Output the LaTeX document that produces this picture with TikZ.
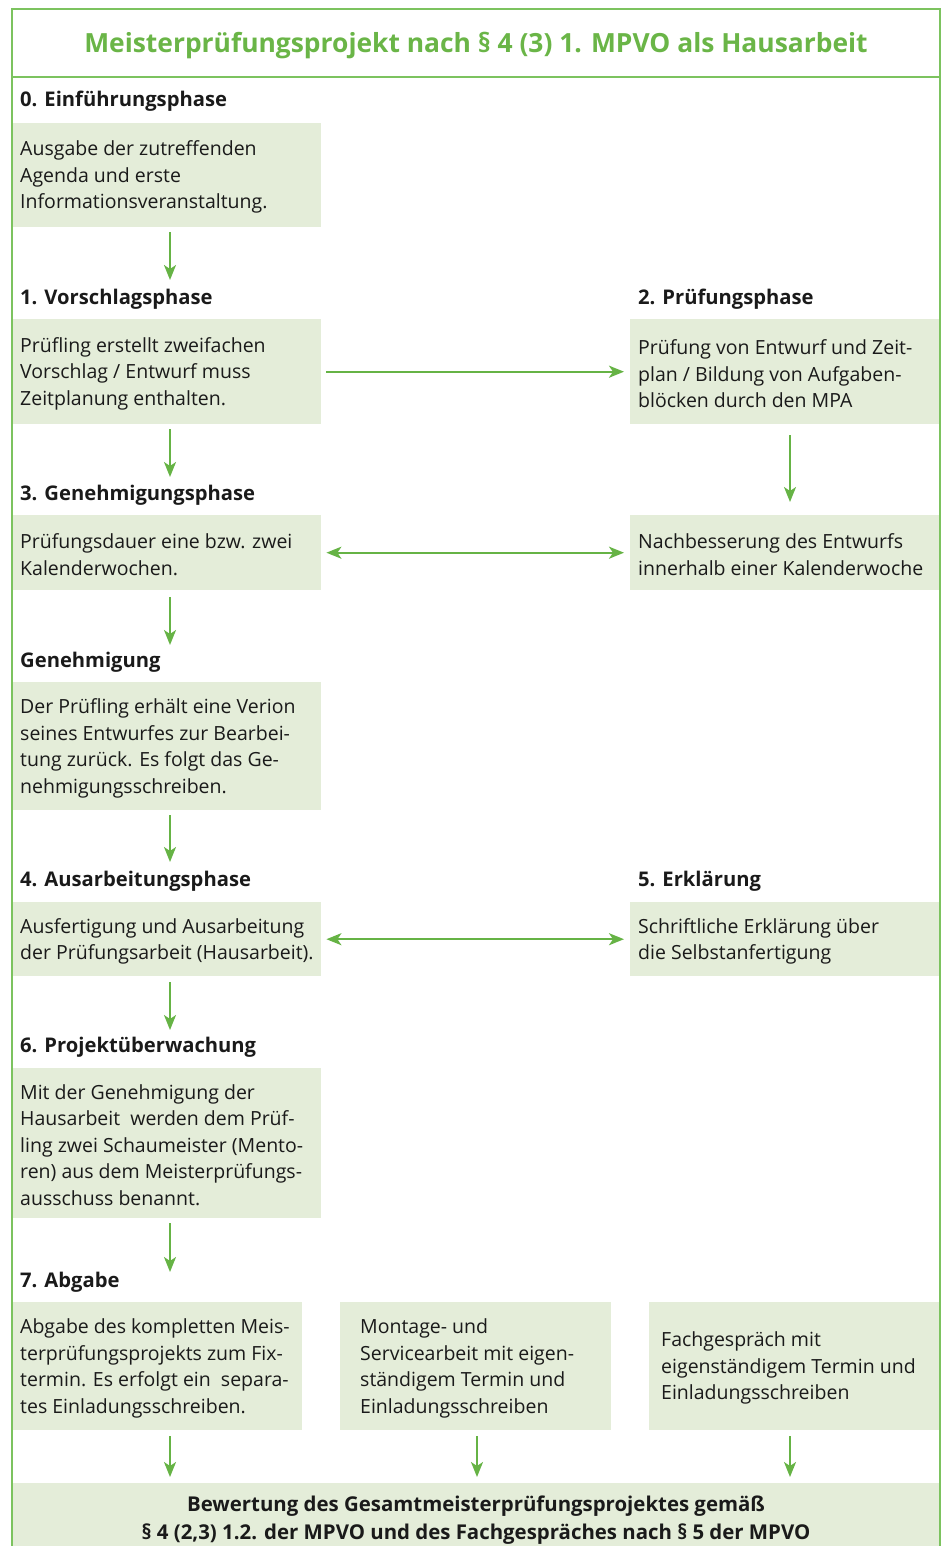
\documentclass[tikz,border=0pt]{standalone}
\usepackage{fontspec}
\setmainfont{Open Sans}
\usetikzlibrary{arrows.meta,calc}
\definecolor{boxfill}{HTML}{E4EDD9}
\definecolor{arrgreen}{HTML}{66B345}
\definecolor{bordergreen}{HTML}{7CC35F}
\definecolor{titlegreen}{HTML}{6AB547}
\definecolor{txtcol}{HTML}{1A1A1A}
\tikzset{
  box/.style={fill=boxfill, draw=none, inner sep=0pt, anchor=north west},
  txt/.style={align=left, inner xsep=8pt, inner ysep=0pt, anchor=west, text=txtcol,
    font=\fontsize{19.5}{26.5}\selectfont},
  head/.style={inner sep=0pt, anchor=base west, text=txtcol,
    font=\fontsize{20.2}{24}\selectfont\bfseries},
  arr/.style={draw=arrgreen, line width=2pt, -{Stealth[length=15pt,width=12pt,inset=4pt]}},
  darr/.style={draw=arrgreen, line width=2pt, {Stealth[length=15pt,width=12pt,inset=4pt]}-{Stealth[length=15pt,width=12pt,inset=4pt]}},
  frame/.style={draw=bordergreen, line width=2pt}
}
\begin{document}
\begin{tikzpicture}[x=1pt,y=-1pt]
\useasboundingbox (0,0) rectangle (946,1546);
\coordinate (cL) at (170,0);
\coordinate (cM) at (477,0);
\coordinate (cR) at (790,0);
% title
\node[inner sep=0pt, text=titlegreen, font=\fontsize{26.4}{30}\selectfont\bfseries] (title) at (476,46) {Meisterprüfungsprojekt nach § 4 (3) 1. MPVO als Hausarbeit};
% boxes
\node[box, minimum width=309, minimum height=104] (b0) at (12,123) {};
\node[box, minimum width=309, minimum height=105] (b1) at (12,319) {};
\node[box, minimum width=310, minimum height=105] (b2) at (630,319) {};
\node[box, minimum width=309, minimum height=75] (b3) at (12,515) {};
\node[box, minimum width=310, minimum height=75] (b3r) at (630,515) {};
\node[box, minimum width=309, minimum height=128] (bg) at (12,682) {};
\node[box, minimum width=309, minimum height=74] (b4) at (12,902) {};
\node[box, minimum width=310, minimum height=74] (b5) at (630,902) {};
\node[box, minimum width=309, minimum height=150] (b6) at (12,1068) {};
\node[box, minimum width=290, minimum height=128] (b7a) at (12,1302) {};
\node[box, minimum width=271, minimum height=128] (b7b) at (340,1302) {};
\node[box, minimum width=291, minimum height=128] (b7c) at (649,1302) {};
\node[box, minimum width=928, minimum height=70] (b8) at (12,1483) {};
% headings
\node[head] (h0) at (20,107) {0. Einführungsphase};
\node[head] (h1) at (20,304) {1. Vorschlagsphase};
\node[head] (h2) at (638,304) {2. Prüfungsphase};
\node[head] (h3) at (20,500) {3. Genehmigungsphase};
\node[head] (hg) at (20,667) {Genehmigung};
\node[head] (h4) at (20,886) {4. Ausarbeitungsphase};
\node[head] (h5) at (638,886) {5. Erklärung};
\node[head] (h6) at (20,1052) {6. Projektüberwachung};
\node[head] (h7) at (20,1287) {7. Abgabe};
% texts
\node[txt] (t0) at ([yshift=-2pt]b0.west) {Ausgabe der zutreffenden\\Agenda und erste\\Informationsveranstaltung.};
\node[txt] (t1) at ([yshift=-2pt]b1.west) {Prüfling erstellt zweifachen\\Vorschlag / Entwurf muss\\Zeitplanung enthalten.};
\node[txt] (t2) at ([yshift=-2pt]b2.west) {Prüfung von Entwurf und Zeit-\\plan / Bildung von Aufgaben-\\blöcken durch den MPA};
\node[txt] (t3) at ([yshift=-2pt]b3.west) {Prüfungsdauer eine bzw. zwei\\Kalenderwochen.};
\node[txt] (t3r) at ([yshift=-2pt]b3r.west) {Nachbesserung des Entwurfs\\innerhalb einer Kalenderwoche};
\node[txt] (tg) at ([yshift=-2pt]bg.west) {Der Prüfling erhält eine Verion\\seines Entwurfes zur Bearbei-\\tung zurück. Es folgt das Ge-\\nehmigungsschreiben.};
\node[txt] (t4) at ([yshift=-2pt]b4.west) {Ausfertigung und Ausarbeitung\\der Prüfungsarbeit (Hausarbeit).};
\node[txt] (t5) at ([yshift=-2pt]b5.west) {Schriftliche Erklärung über\\die Selbstanfertigung};
\node[txt] (t6) at ([yshift=-2pt]b6.west) {Mit der Genehmigung der\\Hausarbeit\ \ werden dem Prüf-\\ling zwei Schaumeister (Mento-\\ren) aus dem Meisterprüfungs-\\ausschuss benannt.};
\node[txt] (t7a) at ([yshift=-2pt]b7a.west) {Abgabe des kompletten Meis-\\terprüfungsprojekts zum Fix-\\termin. Es erfolgt ein\ \ separa-\\tes Einladungsschreiben.};
\node[txt, inner xsep=20pt] (t7b) at ([yshift=-2pt]b7b.west) {Montage- und\\Servicearbeit mit eigen-\\ständigem Termin und\\Einladungsschreiben};
\node[txt, inner xsep=12pt] (t7c) at ([yshift=-2pt]b7c.west) {Fachgespräch mit\\eigenständigem Termin und\\Einladungsschreiben};
\node[inner sep=0pt, align=center, text=txtcol, font=\fontsize{20.4}{28}\selectfont\bfseries] (t8) at (476,1520) {Bewertung des Gesamtmeisterprüfungsprojektes gemäß\\§ 4 (2,3) 1.2. der MPVO und des Fachgespräches nach § 5 der MPVO};
% arrows
\draw[arr, shorten <=5pt] (b0.south -| cL) -- (170,280);
\draw[arr, shorten <=5pt] (b1.south -| cL) -- (170,477);
\draw[arr, shorten <=7pt] (b3.south -| cL) -- (170,645);
\draw[arr, shorten <=5pt] (bg.south -| cL) -- (170,862);
\draw[arr, shorten <=6pt] (b4.south -| cL) -- (170,1030);
\draw[arr, shorten <=5pt] (b6.south -| cL) -- (170,1272);
\draw[arr, shorten <=11pt, shorten >=13pt] (b2.south -| cR) -- (b3r.north -| cR);
\draw[arr, shorten <=5pt, shorten >=6pt] (b1.east) -- (b2.west);
\draw[darr, shorten <=5pt, shorten >=6pt] (b3.east) -- (b3r.west);
\draw[darr, shorten <=5pt, shorten >=6pt] (b4.east) -- (b5.west);
\draw[arr, shorten <=6pt, shorten >=6pt] (b7a.south -| cL) -- (b8.north -| cL);
\draw[arr, shorten <=6pt, shorten >=6pt] (b7b.south -| cM) -- (b8.north -| cM);
\draw[arr, shorten <=6pt, shorten >=6pt] (b7c.south -| cR) -- (b8.north -| cR);
% frame
\draw[frame] (12,1546) -- (12,9) -- (940,9) -- (940,1546);
\draw[frame] (12,77) -- (940,77);
\end{tikzpicture}
\end{document}
